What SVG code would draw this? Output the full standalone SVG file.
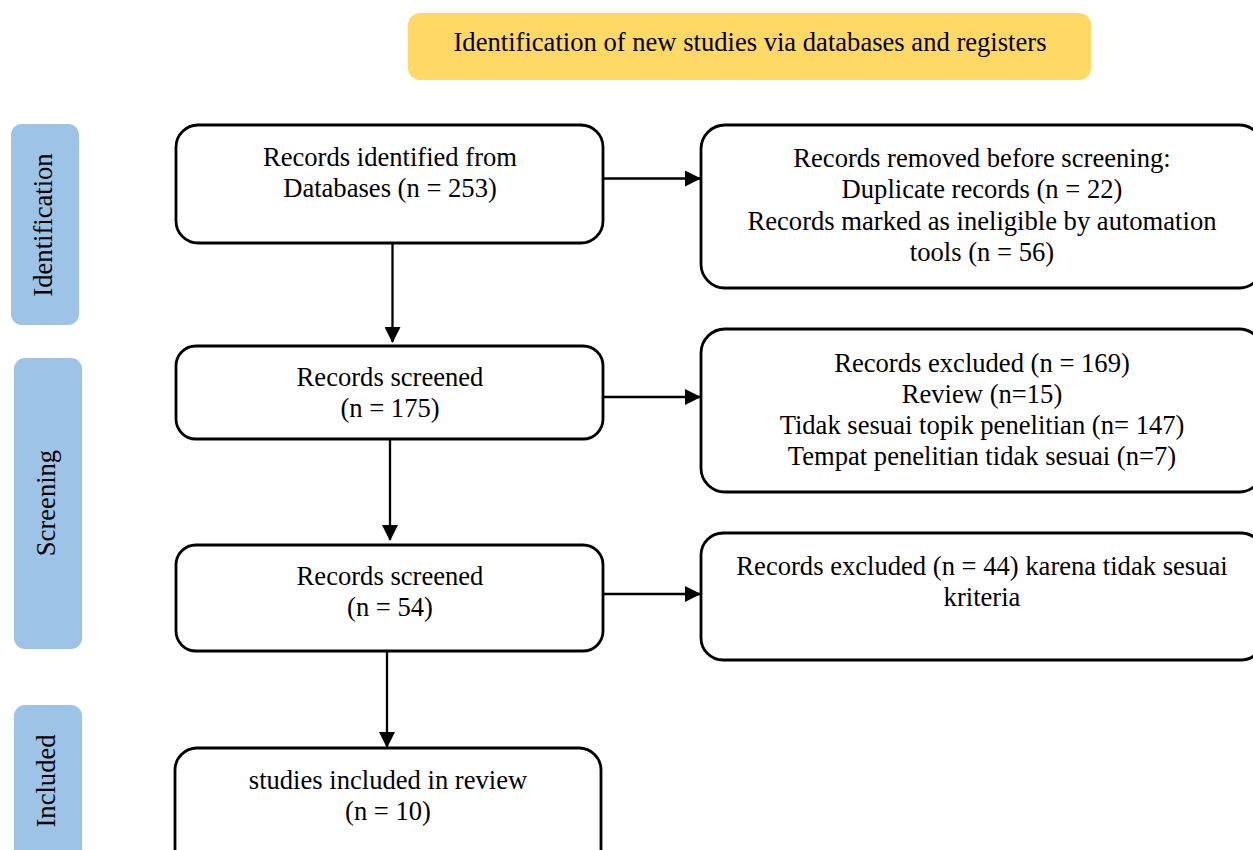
<svg xmlns="http://www.w3.org/2000/svg" width="1253" height="850" viewBox="0 0 1253 850">
<style>
text{font-family:"Liberation Serif","Times New Roman",serif;font-size:26.6px;fill:#000;text-anchor:middle}
.box{fill:#fff;stroke:#000;stroke-width:2.8}
.phase{fill:#9DC3E6}
.conn{stroke:#000;stroke-width:2.3;fill:none;marker-end:url(#ah)}
</style>
<defs>
<marker id="ah" markerUnits="userSpaceOnUse" markerWidth="16" markerHeight="16" refX="15" refY="8" orient="auto">
<path d="M0,0 L16,8 L0,16 Z" fill="#000"/>
</marker>
</defs>
<rect width="1253" height="850" fill="#fff"/>
<g id="title">
<rect x="408" y="13" width="683" height="67" rx="12" fill="#FFD966"/>
<text x="750" y="51">Identification of new studies via databases and registers</text>
</g>
<g id="phase-identification">
<rect class="phase" x="11" y="124" width="68" height="201" rx="11"/>
<text transform="translate(52,225) rotate(-90)">Identification</text>
</g>
<g id="phase-screening">
<rect class="phase" x="14" y="358" width="68" height="291" rx="11"/>
<text transform="translate(55,503) rotate(-90)">Screening</text>
</g>
<g id="phase-included">
<rect class="phase" x="14" y="705" width="68" height="160" rx="11"/>
<text transform="translate(55,781) rotate(-90)">Included</text>
</g>
<g id="connectors">
<line class="conn" x1="603" y1="178.5" x2="700" y2="178.5"/>
<line class="conn" x1="392.5" y1="243" x2="392.5" y2="342"/>
<line class="conn" x1="604" y1="397" x2="700" y2="397"/>
<line class="conn" x1="390" y1="439" x2="390" y2="540"/>
<line class="conn" x1="603" y1="594" x2="700" y2="594"/>
<line class="conn" x1="387" y1="651" x2="387" y2="747"/>
</g>
<g id="n-identified">
<rect class="box" x="176" y="125" width="427" height="118" rx="22"/>
<text x="390" y="166">Records identified from</text>
<text x="390" y="197">Databases (n = 253)</text>
</g>
<g id="n-removed">
<rect class="box" x="701" y="125" width="562" height="163" rx="24"/>
<text x="982" y="167">Records removed before screening:</text>
<text x="982" y="198">Duplicate records (n = 22)</text>
<text x="982" y="229.5">Records marked as ineligible by automation</text>
<text x="982" y="261">tools (n = 56)</text>
</g>
<g id="n-screened-175">
<rect class="box" x="176" y="346" width="427" height="93" rx="20"/>
<text x="390" y="386">Records screened</text>
<text x="390" y="417">(n = 175)</text>
</g>
<g id="n-excluded-169">
<rect class="box" x="701" y="329" width="562" height="163" rx="24"/>
<text x="982" y="372">Records excluded (n = 169)</text>
<text x="982" y="403">Review (n=15)</text>
<text x="982" y="434">Tidak sesuai topik penelitian (n= 147)</text>
<text x="982" y="465">Tempat penelitian tidak sesuai (n=7)</text>
</g>
<g id="n-screened-54">
<rect class="box" x="176" y="545" width="427" height="106" rx="20"/>
<text x="390" y="585">Records screened</text>
<text x="390" y="616">(n = 54)</text>
</g>
<g id="n-excluded-44">
<rect class="box" x="701" y="533" width="562" height="127" rx="22"/>
<text x="982" y="575">Records excluded (n = 44) karena tidak sesuai</text>
<text x="982" y="606">kriteria</text>
</g>
<g id="n-included">
<rect class="box" x="175" y="748" width="426" height="130" rx="22"/>
<text x="388" y="789">studies included in review</text>
<text x="388" y="820">(n = 10)</text>
</g>
</svg>
